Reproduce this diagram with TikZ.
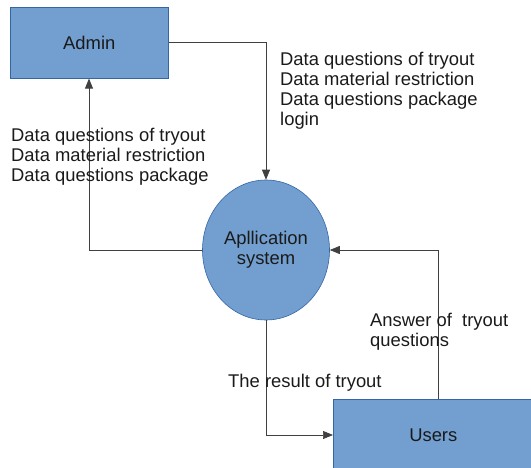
\documentclass[tikz,border=0pt]{standalone}
\usepackage{fontspec}
\setmainfont{Liberation Sans}
\usetikzlibrary{arrows.meta,shapes.geometric}
\definecolor{boxfill}{HTML}{729FCF}
\definecolor{boxline}{HTML}{3465A4}
\definecolor{ink}{HTML}{1A1A1A}
\tikzset{
  entity/.style={draw=boxline, line width=0.6pt, fill=boxfill, text=ink, font=\fontsize{18.4}{20}\selectfont},
  process/.style={ellipse, draw=boxline, line width=0.6pt, fill=boxfill, text=ink, align=center, font=\fontsize{18.4}{20}\selectfont, inner sep=0pt},
  flow/.style={draw=black!75, line width=0.7pt, -{Triangle[length=10pt,width=8pt]}},
  flowlabel/.style={text=ink, align=left, anchor=north west, inner sep=0pt, font=\fontsize{18.4}{20}\selectfont}
}
\begin{document}
\begin{tikzpicture}[x=1pt,y=-1pt]
\useasboundingbox (0,0) rectangle (531,468);
% external entities and the central process
\node[entity, minimum width=158pt, minimum height=71pt, anchor=north west] (admin) at (10,7) {Admin};
\node[entity, minimum width=200pt, minimum height=71pt, anchor=north west] (users) at (333,399) {Users};
\node[process, minimum width=127pt, minimum height=140pt] (sys) at (266,250) {Apllication\\system};
% turning points of the flows
\coordinate (c1) at (266,42);
\coordinate (c2) at (89,250);
\coordinate (c3) at (438,250);
\coordinate (c4) at (266,435);
% data flows
\draw[flow] (admin.east |- c1) -- (c1) -- (sys.north);
\draw[flow] (sys.west) -- (c2) -- (c2 |- admin.south);
\draw[flow] (c3 |- users.north) -- (c3) -- (sys.east);
\draw[flow] (sys.south) -- (c4) -- (c4 -| users.west);
% flow labels
\node[flowlabel] (l1) at (280,52) {Data questions of tryout\\Data material restriction\\Data questions package\\login};
\node[flowlabel] (l2) at (11,128) {Data questions of tryout\\Data material restriction\\Data questions package};
\node[flowlabel] (l3) at (370,313) {Answer of\ \ tryout\\questions};
\node[flowlabel] (l4) at (228,374) {The result of tryout};
\end{tikzpicture}
\end{document}
